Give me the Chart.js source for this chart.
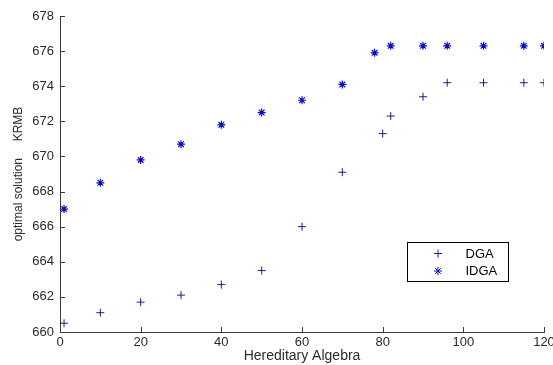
<!DOCTYPE html>
<html>
<head>
<meta charset="utf-8">
<script src="https://cdn.jsdelivr.net/npm/chart.js@4"></script>
<style>
  html, body { margin: 0; padding: 0; background: #fff; }
  #wrap { width: 553px; height: 365px; }
</style>
</head>
<body>
<div id="wrap"><canvas id="plot"></canvas></div>
<script>
// values
const dgaX  = [1, 10, 20, 30, 40, 50, 60, 70, 80, 82, 90, 96, 105, 115, 120];
const dgaY  = [660.5, 661.1, 661.7, 662.1, 662.7, 663.5, 666.0, 669.1, 671.3, 672.3, 673.4, 674.2, 674.2, 674.2, 674.2];
const idgaX = [1, 10, 20, 30, 40, 50, 60, 70, 78, 82, 90, 96, 105, 115, 120];
const idgaY = [667.0, 668.5, 669.8, 670.7, 671.8, 672.5, 673.2, 674.1, 675.9, 676.3, 676.3, 676.3, 676.3, 676.3, 676.3];

const xTicks = [0, 20, 40, 60, 80, 100, 120];
const yTicks = [660, 662, 664, 666, 668, 670, 672, 674, 676, 678];

const toPoints = (xs, ys) => xs.map((x, i) => ({x: x, y: ys[i]}));

const axisColor = '#3a3a3a';
const textColor = '#2a2a2a';
const fontFamily = '"Liberation Sans", Arial, sans-serif';

// MATLAB style ticks that point into the plot
const inwardTicks = {
    id: 'inwardTicks',
    afterDraw(chart) {
        const c = chart.ctx;
        const area = chart.chartArea;
        const xs = chart.scales.x, ys = chart.scales.y;
        c.save();
        c.strokeStyle = axisColor;
        c.lineWidth = 1;
        c.beginPath();
        xTicks.forEach(v => {
            const px = Math.round(xs.getPixelForValue(v)) + 0.5;
            c.moveTo(px, area.bottom);
            c.lineTo(px, area.bottom - 5);
        });
        yTicks.forEach(v => {
            const py = Math.round(ys.getPixelForValue(v)) + 0.5;
            c.moveTo(area.left, py);
            c.lineTo(area.left + 5, py);
        });
        c.stroke();
        c.restore();
    }
};

// boxed legend inside the plot, lower right
const boxLegend = {
    id: 'boxLegend',
    afterDraw(chart) {
        const c = chart.ctx;
        const area = chart.chartArea;
        const bx = area.right - 136.5, by = area.top + 226.5;
        const bw = 101, bh = 39;
        c.save();
        c.fillStyle = '#fff';
        c.fillRect(bx, by, bw, bh);
        c.strokeStyle = '#000';
        c.lineWidth = 1;
        c.strokeRect(bx, by, bw, bh);
        c.font = '13px ' + fontFamily;
        c.textBaseline = 'middle';
        chart.data.datasets.forEach((ds, i) => {
            const cy = by + 11 + i * 17.5;
            c.strokeStyle = ds.borderColor;
            c.fillStyle = ds.borderColor;
            Chart.helpers.drawPoint(c, {
                pointStyle: ds.pointStyle, radius: ds.pointRadius,
                rotation: 0, borderWidth: ds.borderWidth
            }, bx + 30.5, cy);
            c.fillStyle = '#000';
            c.fillText(ds.label, bx + 58, cy + 0.5);
        });
        c.restore();
    }
};

new Chart(document.getElementById('plot'), {
    type: 'scatter',
    data: {
        datasets: [
            {
                label: 'DGA',
                data: toPoints(dgaX, dgaY),
                pointStyle: 'cross',
                pointRadius: 4,
                borderWidth: 1,
                borderColor: '#1f1f80',
                backgroundColor: '#1f1f80'
            },
            {
                label: 'IDGA',
                data: toPoints(idgaX, idgaY),
                pointStyle: 'star',
                pointRadius: 4,
                borderWidth: 1.2,
                borderColor: '#0a0ac0',
                backgroundColor: '#0a0ac0'
            }
        ]
    },
    options: {
        responsive: true,
        maintainAspectRatio: false,
        animation: false,
        layout: { padding: { left: 0, top: 16, right: 9, bottom: 0 } },
        plugins: {
            legend: { display: false },
            tooltip: { enabled: false }
        },
        scales: {
            x: {
                type: 'linear',
                min: 0,
                max: 120,
                afterBuildTicks: s => { s.ticks = xTicks.map(v => ({value: v})); },
                afterFit: s => { s.height = 33; s.paddingLeft = 0; s.paddingRight = 0; },
                grid: { display: false, drawTicks: false },
                border: { display: true, color: axisColor, width: 1 },
                ticks: { color: textColor, padding: 3, font: { family: fontFamily, size: 13 } },
                title: {
                    display: true,
                    text: 'Hereditary Algebra',
                    color: textColor,
                    padding: { top: 0, bottom: 0 },
                    font: { family: fontFamily, size: 14 }
                }
            },
            y: {
                type: 'linear',
                min: 660,
                max: 678,
                afterBuildTicks: s => { s.ticks = yTicks.map(v => ({value: v})); },
                afterFit: s => { s.width = 60; s.paddingTop = 0; s.paddingBottom = 0; },
                grid: { display: false, drawTicks: false },
                border: { display: true, color: axisColor, width: 1 },
                ticks: { color: textColor, padding: 6, font: { family: fontFamily, size: 13 } },
                title: {
                    display: true,
                    text: 'optimal solution     KRMB',
                    color: textColor,
                    padding: { top: 11, bottom: 0 },
                    font: { family: fontFamily, size: 12 }
                }
            }
        }
    },
    plugins: [inwardTicks, boxLegend]
});
</script>
</body>
</html>
